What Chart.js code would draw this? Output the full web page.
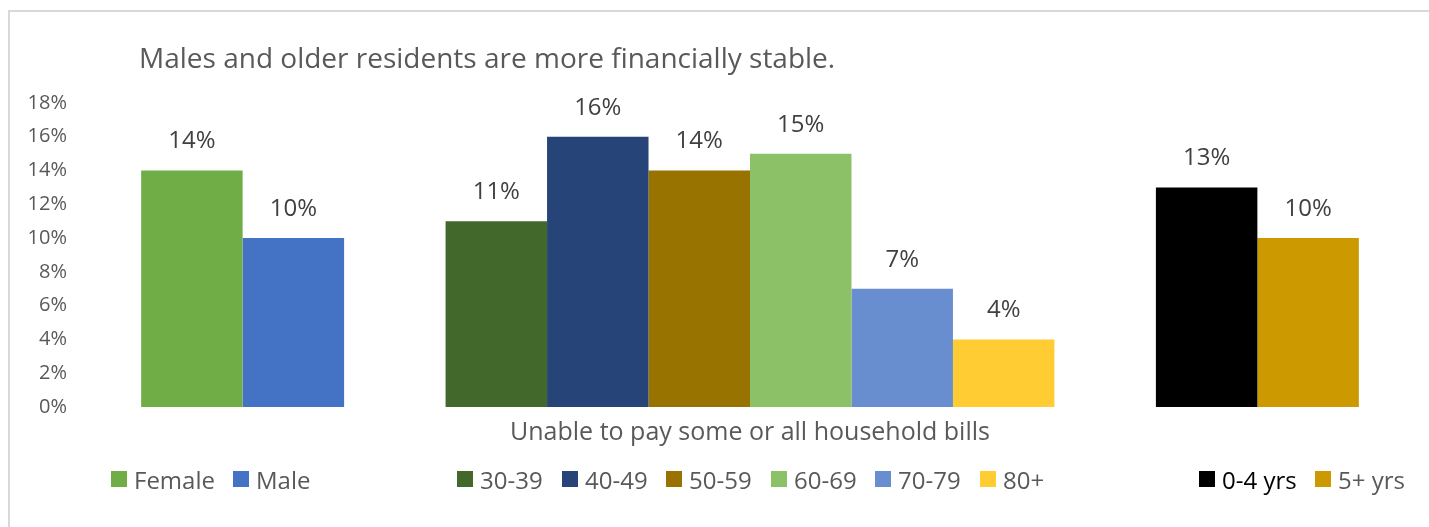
<!DOCTYPE html>
<html>
<head>
<meta charset="utf-8">
<script src="https://cdn.jsdelivr.net/npm/chart.js@4.4.1/dist/chart.umd.min.js"></script>
<style>
    body { margin: 0; background: #fff; overflow: hidden; font-family: "Open Sans", sans-serif; }
    #frame { position: absolute; left: 8px; top: 10px; width: 1460px; height: 560px; border: 2px solid #d9d9d9; }
    #chart { position: absolute; left: 0; top: 0; }
    #title { position: absolute; left: 139px; top: 38px; font-size: 28px; color: #595959; white-space: nowrap; }
    #legend .item { position: absolute; top: 464px; height: 30px; display: flex; align-items: center; font-size: 24px; color: #595959; white-space: nowrap; }
    #legend .box { width: 16px; height: 16px; margin-right: 7px; }
</style>
</head>
<body>
<div id="frame"></div>
<canvas id="chart" width="1429" height="527"></canvas>
<div id="title">Males and older residents are more financially stable.</div>
<div id="legend"></div>
<script>
    const category = 'Unable to pay some or all household bills';

    const sexLabels = ['Female', 'Male'];
    const sexValues = [14, 10];
    const sexColors = ['#70ad47', '#4472c4'];

    const ageLabels = ['30-39', '40-49', '50-59', '60-69', '70-79', '80+'];
    const ageValues = [11, 16, 14, 15, 7, 4];
    const ageColors = ['#43682b', '#264478', '#997300', '#8cc168', '#698ed0', '#ffcd33'];

    const tenureLabels = ['0-4 yrs', '5+ yrs'];
    const tenureValues = [13, 10];
    const tenureColors = ['#000000', '#cc9900'];

    const yTicks = [0, 2, 4, 6, 8, 10, 12, 14, 16, 18];

    // legend swatch x positions, one per real series
    const legendLeft = [111, 233, 457, 562, 666, 771, 875, 980, 1199, 1315];

    function series(labels, values, colors) {
        return labels.map((label, i) => ({
            label: label,
            data: [values[i]],
            backgroundColor: colors[i],
            borderWidth: 0
        }));
    }
    const spacer = () => ({label: '', data: [null], spacer: true});

    const datasets = [
        ...series(sexLabels, sexValues, sexColors),
        spacer(),
        ...series(ageLabels, ageValues, ageColors),
        spacer(),
        ...series(tenureLabels, tenureValues, tenureColors)
    ];

    const valueLabels = {
        id: 'valueLabels',
        afterDatasetsDraw(chart) {
            const ctx = chart.ctx;
            ctx.save();
            ctx.font = '24px "Open Sans"';
            ctx.fillStyle = '#404040';
            ctx.textAlign = 'center';
            ctx.textBaseline = 'middle';
            chart.data.datasets.forEach((ds, i) => {
                if (ds.spacer) return;
                chart.getDatasetMeta(i).data.forEach((bar, j) => {
                    ctx.fillText(ds.data[j] + '%', bar.x, bar.y - 29);
                });
            });
            ctx.restore();
        }
    };

    const chart = new Chart(document.getElementById('chart'), {
        type: 'bar',
        plugins: [valueLabels],
        data: {labels: [category], datasets: datasets},
        options: {
            responsive: false,
            animation: false,
            devicePixelRatio: 1,
            layout: {padding: {top: 103, right: 4, bottom: 0, left: 0}},
            datasets: {bar: {barPercentage: 1, categoryPercentage: 0.902}},
            plugins: {legend: {display: false}, tooltip: {enabled: false}},
            scales: {
                x: {
                    grid: {display: false},
                    border: {display: false},
                    ticks: {display: false},
                    title: {
                        display: true,
                        text: category,
                        color: '#595959',
                        font: {family: 'Open Sans', size: 25},
                        padding: {top: 4, bottom: 79}
                    },
                    afterFit(scale) { scale.height = 120; }
                },
                y: {
                    min: 0,
                    max: 18,
                    grid: {display: false, drawTicks: false},
                    border: {display: false},
                    afterBuildTicks(scale) { scale.ticks = yTicks.map(v => ({value: v})); },
                    ticks: {
                        padding: 8,
                        color: '#595959',
                        font: {family: 'Open Sans', size: 20},
                        callback: v => v + '%'
                    },
                    afterFit(scale) { scale.width = 75; }
                }
            }
        }
    });

    // html legend, skipping the spacer series
    const legend = document.getElementById('legend');
    datasets.filter(ds => !ds.spacer).forEach((ds, i) => {
        const item = document.createElement('div');
        item.className = 'item';
        item.style.left = legendLeft[i] + 'px';
        if (ds.label === '0-4 yrs') item.style.color = '#000';
        const box = document.createElement('span');
        box.className = 'box';
        box.style.background = ds.backgroundColor;
        item.appendChild(box);
        item.appendChild(document.createTextNode(ds.label));
        legend.appendChild(item);
    });
</script>
</body>
</html>
